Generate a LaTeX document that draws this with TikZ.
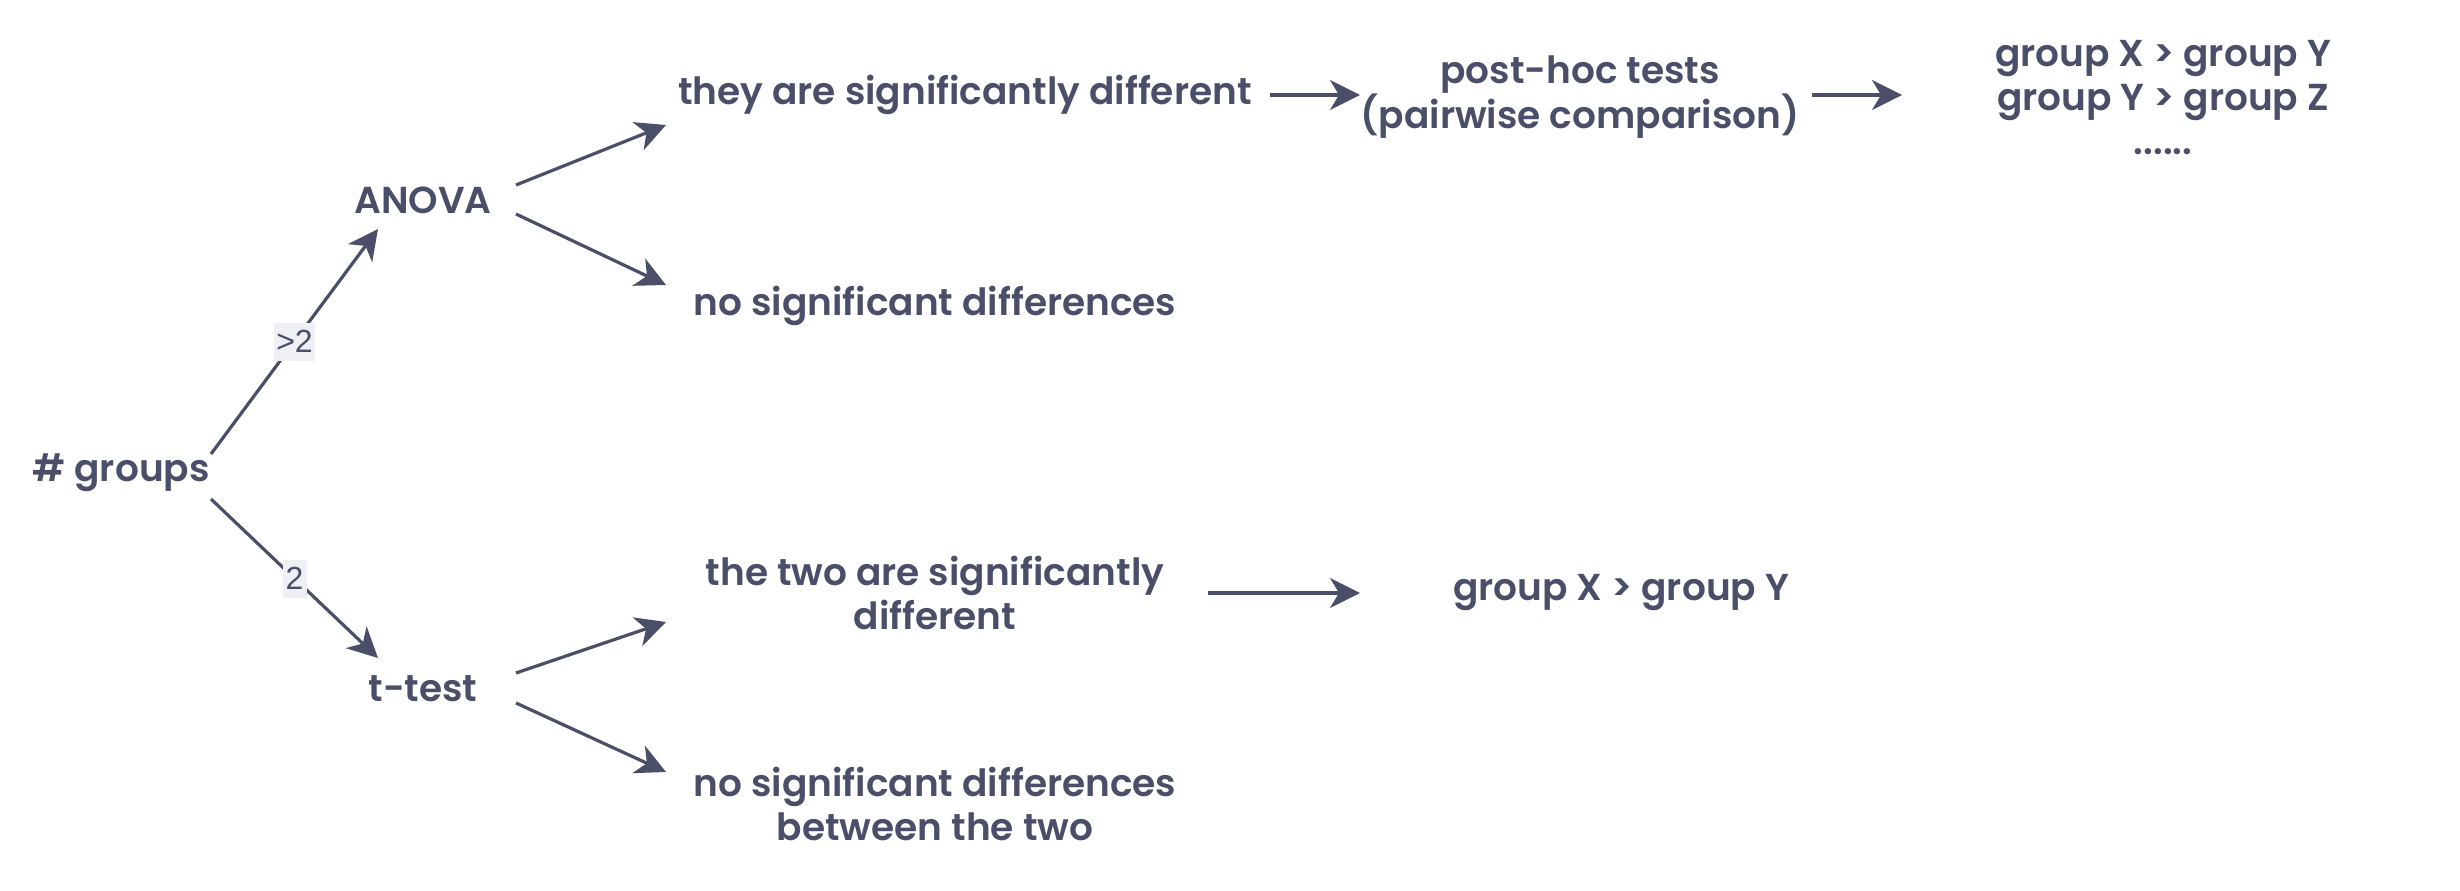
\documentclass[tikz,border=0pt]{standalone}
\usepackage{fontspec}
\setmainfont{Poppins}[BoldFont={Poppins SemiBold}]
\newfontfamily\lblfont{Liberation Sans}
\usetikzlibrary{arrows.meta}
\definecolor{ink}{RGB}{74,78,105}
\definecolor{lblbg}{RGB}{238,240,245}
\begin{document}
\begin{tikzpicture}[x=1pt,y=-1pt,
  txt/.style={text=ink,font=\bfseries\fontsize{37.5}{44}\selectfont,align=center,inner sep=0pt},
  arr/.style={draw=ink,line width=3.2pt,-{Stealth[length=30pt,width=30pt,inset=9pt]}},
  lbl/.style={fill=lblbg,text=ink,font=\lblfont\fontsize{32}{34}\selectfont,inner sep=2pt,minimum height=38pt,minimum width=24pt}]
\useasboundingbox (0,0) rectangle (2460,891);
\node[txt] (groups) at (121,473) {\# groups};
\node[txt] (anova) at (423,200) {ANOVA};
\node[txt] (ttest) at (423,689) {t-test};
\node[txt] (sig) at (965,95) {they are significantly different};
\node[txt] (nosig) at (935,306) {no significant differences};
\node[txt] (posthoc) at (1580,97) {post-hoc tests\\(pairwise comparison)};
\node[txt] (res1) at (2163,98) {group X > group Y\\group Y > group Z\\......};
\node[txt] (twosig) at (935,593) {the two are significantly\\different};
\node[txt] (res2) at (1621,593) {group X > group Y};
\node[txt] (nosig2) at (935,804) {no significant differences\\between the two};
% connector end points
\coordinate (gA) at (211,454); \coordinate (aG) at (378,229);
\coordinate (gT) at (211,499); \coordinate (tG) at (378,658);
\coordinate (aS) at (516,185); \coordinate (sA) at (666,125);
\coordinate (aN) at (516,214); \coordinate (nA) at (666,285);
\coordinate (tS) at (516,673); \coordinate (sT) at (666,622);
\coordinate (tN) at (516,703); \coordinate (nT) at (666,772);
\coordinate (sP) at (1270,95); \coordinate (pS) at (1360,95);
\coordinate (pR) at (1812,95); \coordinate (rP) at (1902,95);
\coordinate (wR) at (1208,593); \coordinate (rW) at (1360,593);
\draw[arr] (gA) -- node[lbl] {>2} (aG);
\draw[arr] (gT) -- node[lbl] {2} (tG);
\draw[arr] (aS) -- (sA);
\draw[arr] (aN) -- (nA);
\draw[arr] (tS) -- (sT);
\draw[arr] (tN) -- (nT);
\draw[arr] (sP) -- (pS);
\draw[arr] (pR) -- (rP);
\draw[arr] (wR) -- (rW);
\end{tikzpicture}
\end{document}
